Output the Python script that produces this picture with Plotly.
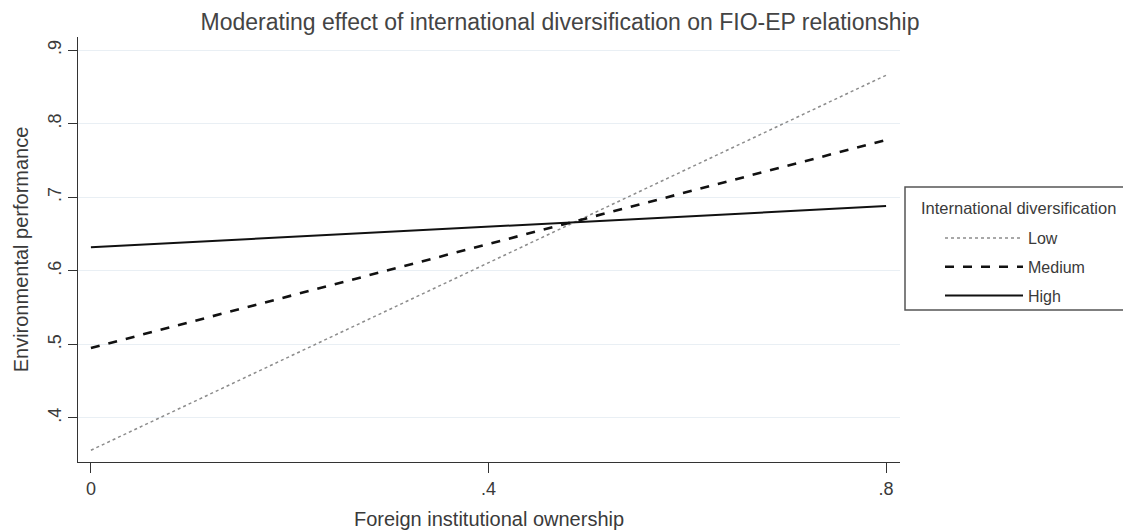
import plotly.graph_objects as go

x_vals = [0, 0.8]
low_vals = [0.356, 0.866]
medium_vals = [0.495, 0.778]
high_vals = [0.632, 0.688]
series_names = ["Low", "Medium", "High"]
legend_title = "International diversification"
x_ticks = [0, 0.4, 0.8]
x_tick_labels = ["0", ".4", ".8"]
y_ticks = [0.4, 0.5, 0.6, 0.7, 0.8, 0.9]
y_tick_labels = [".4", ".5", ".6", ".7", ".8", ".9"]

font_family = "Liberation Sans, Arial, sans-serif"
txt = "#3a3a3a"

# body has 8px default margin; figure placed at (8,8)
W, H = 1123, 523
L, T, R, B = 70, 29, 231, 69
pw, ph = W - L - R, H - T - B


def px_x(X):
    return (X - 8 - L) / pw


def px_y(Y):
    return (H - B + 8 - Y) / ph


fig = go.Figure()
fig.add_trace(go.Scatter(x=x_vals, y=low_vals, mode="lines", name=series_names[0], legendgroup="a",
                         line=dict(color="#8c8c8c", width=1.5, dash="dot")))
fig.add_trace(go.Scatter(x=x_vals, y=medium_vals, mode="lines", name=series_names[1], legendgroup="b",
                         line=dict(color="#111111", width=2.6, dash="dash")))
fig.add_trace(go.Scatter(x=x_vals, y=high_vals, mode="lines", name=series_names[2], legendgroup="c",
                         line=dict(color="#111111", width=2)))

fig.update_layout(
    width=W, height=H,
    margin=dict(l=L, r=R, t=T, b=B, autoexpand=False),
    paper_bgcolor="white", plot_bgcolor="white",
    font=dict(family=font_family, color=txt, size=18),
    title=dict(text="Moderating effect of international diversification on FIO-EP relationship",
               x=(560 - 8) / W, xanchor="center", y=1 - (22 - 8) / H, yanchor="middle",
               font=dict(size=23, color="#444444")),
    xaxis=dict(range=[-0.013, 0.814], tickvals=x_ticks, ticktext=x_tick_labels,
               showgrid=False, zeroline=False, showline=True, linecolor="#333333", linewidth=1,
               ticks="outside", ticklen=10, tickcolor="#333333", automargin=False,
               title=dict(text="Foreign institutional ownership", font=dict(size=20), standoff=14),
               tickfont=dict(size=18)),
    yaxis=dict(range=[0.34, 0.918], tickvals=y_ticks, ticktext=y_tick_labels,
               showgrid=True, gridcolor="#e9eff4", gridwidth=1, zeroline=False,
               showline=True, linecolor="#333333", linewidth=1, automargin=False,
               ticks="outside", ticklen=9, tickcolor="#333333", tickangle=-90,
               title=dict(text="Environmental performance", font=dict(size=20), standoff=10),
               tickfont=dict(size=18)),
    legend=dict(x=px_x(940), y=px_y(221), xanchor="left", yanchor="top",
                borderwidth=0, bgcolor="rgba(0,0,0,0)",
                font=dict(size=16, color=txt), itemwidth=78, tracegroupgap=5),
    shapes=[dict(type="rect", xref="paper", yref="paper",
                 x0=px_x(905), x1=px_x(1124), y0=px_y(310), y1=px_y(187),
                 line=dict(color="#555555", width=1.5), fillcolor="white", layer="below")],
    annotations=[dict(text=legend_title, xref="paper", yref="paper",
                      x=px_x(1018), y=px_y(208), xanchor="center", yanchor="middle",
                      showarrow=False, font=dict(size=16.5, color=txt))],
)
fig.write_html("out.html")
